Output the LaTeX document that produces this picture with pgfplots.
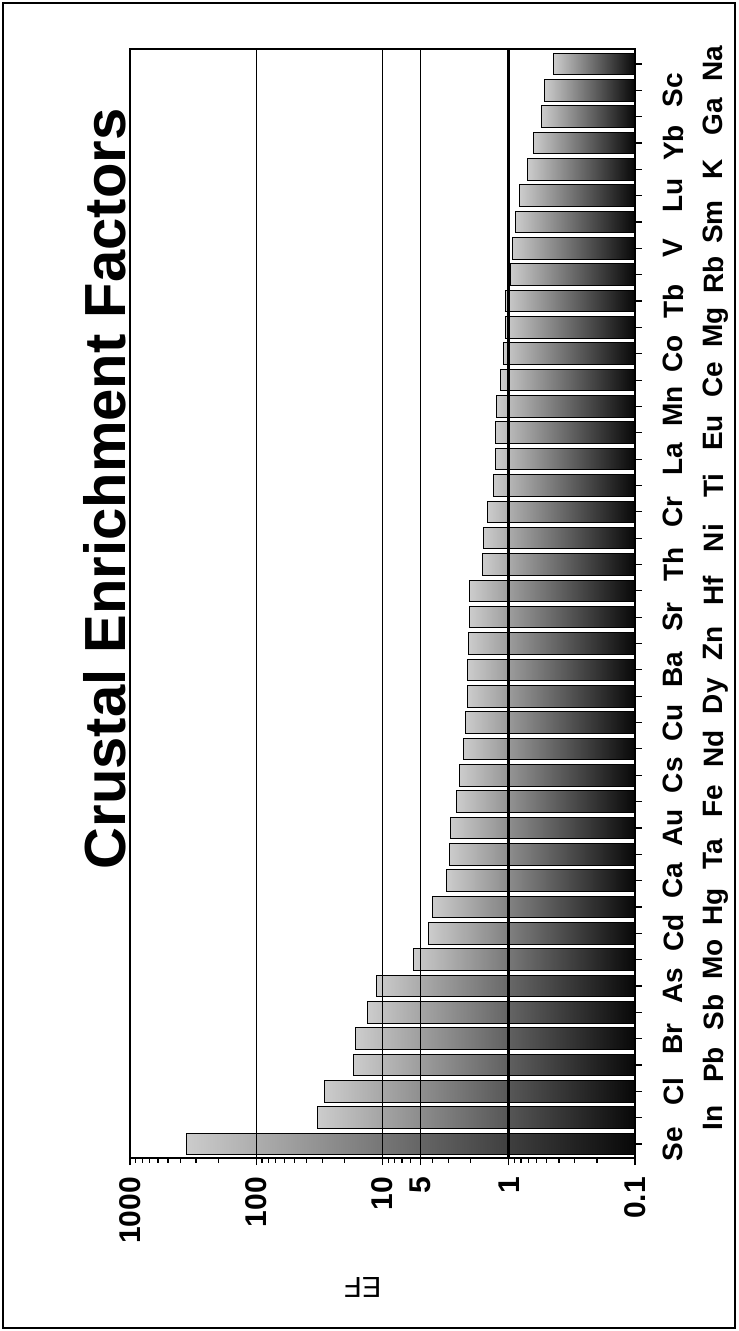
\documentclass[border=0pt]{standalone}
\usepackage{pgfplots}
\pgfplotsset{compat=1.18}
\usepackage{fontspec}
\setmainfont{Liberation Sans}
\pgfplotsset{efbar/.style={xbar, bar width=0.82, draw=black, line width=0.5pt, left color=black!20, middle color=black!50, right color=black!97}}
\begin{document}
\begin{tikzpicture}[x=1pt,y=1pt]
\path[use as bounding box] (0,0) rectangle (369,665.5);
\draw[line width=0.8pt] (1.5,1.5) rectangle (367.5,664);
\node[rotate=90, font=\bfseries\fontsize{29}{32}\selectfont] at (52.5,421) {Crustal Enrichment Factors};
\begin{axis}[
  at={(65pt,86.5pt)}, anchor=south west,
  scale only axis, width=252.5pt, height=554.5pt,
  xmode=log, xmin=0.1, xmax=1000, x dir=reverse,
  log origin x=infty,
  ymin=-0.53, ymax=41.57,
  axis on top,
  axis line style={line width=0.7pt},
  /pgf/number format/assume math mode=true,
  tick align=outside,
  major tick length=3.5pt, minor tick length=2.5pt,
  tick style={black, line width=0.6pt},
  xtick pos=bottom,
  xtick={0.1,1,5,10,100,1000},
  xticklabels={0.1,1,5,10,100,1000},
  minor xtick={0.2,0.3,0.4,0.5,0.6,0.7,0.8,0.9,2,3,4,6,7,8,9,20,30,40,50,60,70,80,90,200,300,400,500,600,700,800,900},
  xticklabel style={rotate=90, anchor=east, font=\bfseries\fontsize{15}{18}\selectfont},
  xticklabel shift=2.5pt,
  xmajorgrids, major grid style={line width=0.6pt, black},
  extra x ticks={1}, extra x tick labels={},
  extra x tick style={grid=major, major grid style={line width=1.7pt, black}},
  xlabel={EF},
  xlabel style={at={(axis description cs:0.461,0)}, anchor=center, yshift=-64.5pt, rotate=180, font=\fontsize{14.5}{17}\selectfont},
  ytick pos=right, yticklabel pos=right,
  ytick={0,2,...,40},
  yticklabels={Se,Cl,Br,As,Cd,Ca,Au,Cs,Cu,Ba,Sr,Th,Cr,La,Mn,Co,Tb,V,Lu,Yb,Sc},
  extra y ticks={1,3,...,41},
  extra y tick labels={In,Pb,Sb,Mo,Hg,Ta,Fe,Nd,Dy,Zn,Hf,Ni,Ti,Eu,Ce,Mg,Rb,Sm,K,Ga,Na},
  extra y tick style={yticklabel shift=27pt},
  yticklabel style={rotate=90, anchor=north, font=\bfseries\fontsize{14}{16}\selectfont},
  yticklabel shift=7pt,
]
\addplot[efbar] coordinates {(360,0)};
\addplot[efbar] coordinates {(32.5,1)};
\addplot[efbar] coordinates {(29,2)};
\addplot[efbar] coordinates {(17,3)};
\addplot[efbar] coordinates {(16.3,4)};
\addplot[efbar] coordinates {(13.1,5)};
\addplot[efbar] coordinates {(11.1,6)};
\addplot[efbar] coordinates {(5.7,7)};
\addplot[efbar] coordinates {(4.3,8)};
\addplot[efbar] coordinates {(4.0,9)};
\addplot[efbar] coordinates {(3.1,10)};
\addplot[efbar] coordinates {(2.97,11)};
\addplot[efbar] coordinates {(2.9,12)};
\addplot[efbar] coordinates {(2.6,13)};
\addplot[efbar] coordinates {(2.46,14)};
\addplot[efbar] coordinates {(2.29,15)};
\addplot[efbar] coordinates {(2.22,16)};
\addplot[efbar] coordinates {(2.13,17)};
\addplot[efbar] coordinates {(2.12,18)};
\addplot[efbar] coordinates {(2.1,19)};
\addplot[efbar] coordinates {(2.04,20)};
\addplot[efbar] coordinates {(2.04,21)};
\addplot[efbar] coordinates {(1.6,22)};
\addplot[efbar] coordinates {(1.59,23)};
\addplot[efbar] coordinates {(1.48,24)};
\addplot[efbar] coordinates {(1.33,25)};
\addplot[efbar] coordinates {(1.28,26)};
\addplot[efbar] coordinates {(1.28,27)};
\addplot[efbar] coordinates {(1.24,28)};
\addplot[efbar] coordinates {(1.16,29)};
\addplot[efbar] coordinates {(1.11,30)};
\addplot[efbar] coordinates {(1.07,31)};
\addplot[efbar] coordinates {(1.06,32)};
\addplot[efbar] coordinates {(0.97,33)};
\addplot[efbar] coordinates {(0.94,34)};
\addplot[efbar] coordinates {(0.89,35)};
\addplot[efbar] coordinates {(0.82,36)};
\addplot[efbar] coordinates {(0.71,37)};
\addplot[efbar] coordinates {(0.64,38)};
\addplot[efbar] coordinates {(0.55,39)};
\addplot[efbar] coordinates {(0.52,40)};
\addplot[efbar] coordinates {(0.44,41)};
\end{axis}
\end{tikzpicture}
\end{document}
